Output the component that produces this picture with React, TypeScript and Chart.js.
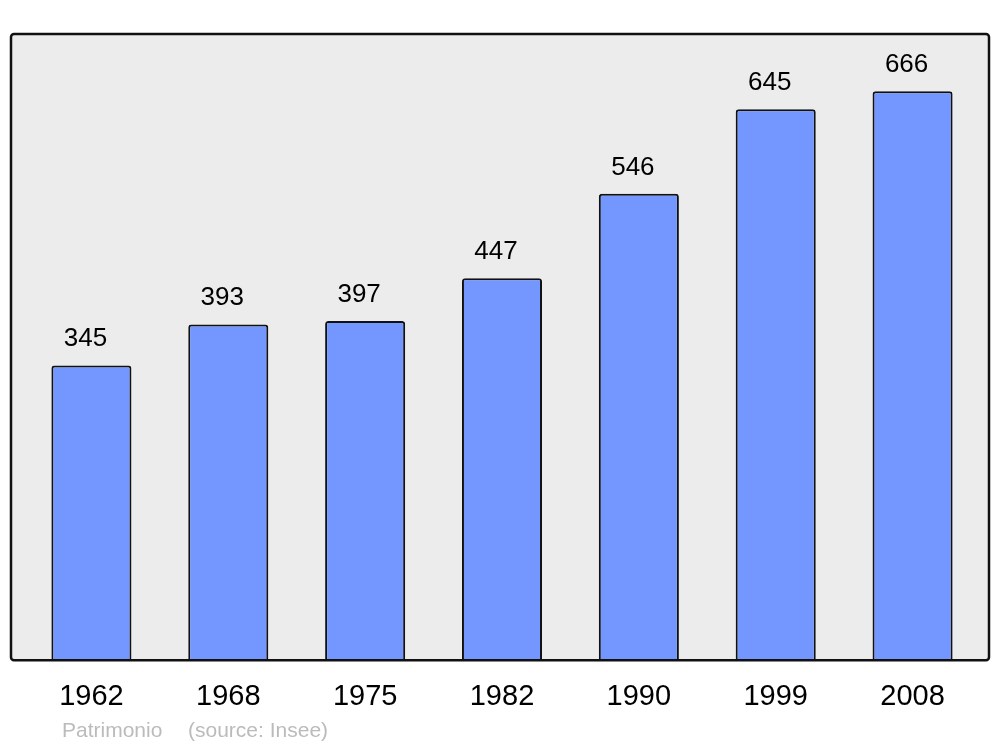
import React, { useEffect, useRef } from "react";
import { Chart, registerables } from "chart.js";

Chart.register(...registerables);

const years = ["1962", "1968", "1975", "1982", "1990", "1999", "2008"];
const population = [345, 393, 397, 447, 546, 645, 666];
const footerLeft = "Patrimonio";
const footerRight = "(source: Insee)";
const yMax = 733;

const FONT = "'Liberation Sans', Arial, sans-serif";

const boxPlugin = {
  id: "boxPlugin",
  beforeDraw(chart: any) {
    const { ctx, chartArea } = chart;
    const x0 = chartArea.left - 12;
    const x1 = chartArea.right + 8;
    const y0 = chartArea.top;
    const y1 = chartArea.bottom;
    ctx.save();
    ctx.beginPath();
    ctx.roundRect(x0, y0, x1 - x0, y1 - y0, 3);
    ctx.fillStyle = "#ececec";
    ctx.fill();
    ctx.restore();
  },
  afterDatasetsDraw(chart: any) {
    const { ctx, chartArea } = chart;
    const x0 = chartArea.left - 12;
    const x1 = chartArea.right + 8;
    const y0 = chartArea.top;
    const y1 = chartArea.bottom;
    ctx.save();
    ctx.beginPath();
    ctx.roundRect(x0, y0, x1 - x0, y1 - y0, 3);
    ctx.lineWidth = 2.5;
    ctx.strokeStyle = "#111";
    ctx.stroke();
    // value labels
    const meta = chart.getDatasetMeta(0);
    ctx.fillStyle = "#000";
    ctx.font = `26px ${FONT}`;
    ctx.textAlign = "center";
    ctx.textBaseline = "alphabetic";
    meta.data.forEach((el: any, i: number) => {
      ctx.fillText(String(population[i]), el.x - 6, el.y - 19);
    });
    // footer
    ctx.fillStyle = "#bbbbbb";
    ctx.font = `21px ${FONT}`;
    ctx.textAlign = "left";
    ctx.fillText(footerLeft, 62, 737);
    ctx.fillText(footerRight, 188, 737);
    ctx.restore();
  },
};

export default function App() {
  const ref = useRef<HTMLCanvasElement | null>(null);
  useEffect(() => {
    if (!ref.current) return;
    const chart = new Chart(ref.current, {
      type: "bar",
      data: {
        labels: years,
        datasets: [
          {
            data: population,
            backgroundColor: "#7397ff",
            borderColor: "#111",
            borderWidth: 2,
            borderRadius: 3,
            borderSkipped: "bottom",
            barPercentage: 0.585,
            categoryPercentage: 1,
          },
        ],
      },
      options: {
        responsive: false,
        animation: false,
        layout: { padding: { left: 23, right: 19, top: 34, bottom: 14 } },
        plugins: {
          legend: { display: false },
          tooltip: { enabled: false },
          title: { display: false },
        },
        scales: {
          x: {
            grid: { display: false, drawTicks: false },
            border: { display: false },
            ticks: {
              color: "#000",
              font: { family: FONT, size: 29 },
              padding: 19,
              maxRotation: 0,
            },
          },
          y: {
            display: false,
            min: 0,
            max: yMax,
          },
        },
      },
      plugins: [boxPlugin],
    });
    return () => chart.destroy();
  }, []);
  return (
    <div style={{ position: "fixed", left: 0, top: 0, width: 1000, height: 747, background: "#fff" }}>
      <canvas ref={ref} width={1000} height={747} />
    </div>
  );
}
